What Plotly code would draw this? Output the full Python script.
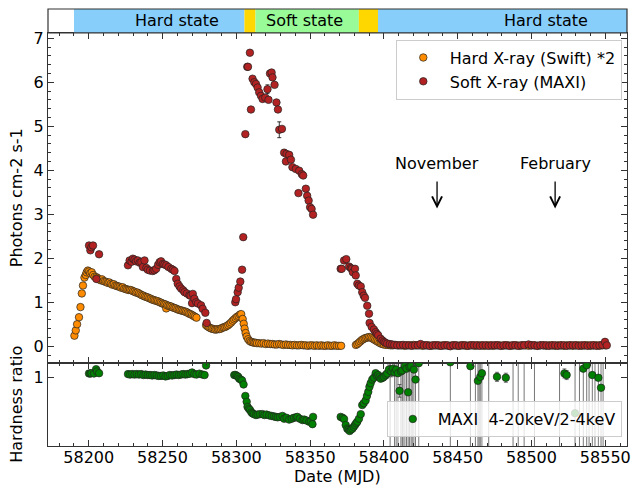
import plotly.graph_objects as go

# ---------------- data ----------------
# Swift hard X-ray (x2), (MJD, photons)
swift_pts = [
    (58190.3, 0.24), (58191.2, 0.36), (58192.1, 0.50), (58193.4, 0.66), (58194.4, 0.89),
    (58195.3, 1.20), (58196.1, 1.38), (58197.1, 1.56), (58198.0, 1.62), (58198.6, 1.68),
    (58199.4, 1.72), (58200.2, 1.70), (58201.0, 1.66), (58202.0, 1.68), (58203.0, 1.62),
    (58204.0, 1.58), (58205.2, 1.57), (58206, 1.55), (58207, 1.52), (58208, 1.50),
    (58209, 1.52), (58210, 1.48), (58211, 1.47), (58212, 1.46), (58213, 1.44),
    (58214, 1.45), (58215, 1.42), (58216, 1.40), (58217, 1.41), (58218, 1.38),
    (58219, 1.37), (58220, 1.36), (58221, 1.35), (58222, 1.33), (58223, 1.34),
    (58224, 1.31), (58225, 1.30), (58226, 1.29), (58227, 1.28), (58228, 1.28),
    (58229, 1.27), (58230, 1.25), (58231, 1.24), (58232, 1.22), (58233, 1.22),
    (58234, 1.20), (58235, 1.18), (58236, 1.16), (58237, 1.15), (58238, 1.13),
    (58239, 1.12), (58240, 1.11), (58241, 1.09), (58242, 1.08), (58243, 1.06),
    (58244, 1.05), (58245, 1.04), (58246, 1.03), (58247, 1.02), (58248, 1.00),
    (58249, 0.99), (58250, 0.97), (58251, 0.96), (58252, 0.95), (58252.5, 0.86),
    (58253, 0.93), (58254, 0.92), (58255, 0.91), (58256, 0.90), (58257, 0.88),
    (58258, 0.87), (58259, 0.86), (58260, 0.84), (58261, 0.83), (58262, 0.82),
    (58263, 0.81), (58264, 0.80), (58265, 0.79), (58266, 0.78), (58267, 0.76),
    (58268, 0.74), (58269, 0.73), (58270, 0.71), (58271, 0.69), (58272, 0.67),
    (58273, 0.65),
    (58279.5, 0.48), (58280.5, 0.45), (58281.5, 0.43), (58282.5, 0.41), (58283.5, 0.40),
    (58284.5, 0.39), (58285.5, 0.38), (58286.5, 0.38), (58287.5, 0.39), (58288.5, 0.39),
    (58289.5, 0.40), (58290.5, 0.42), (58291.5, 0.43), (58292.5, 0.44), (58293.5, 0.46),
    (58294.5, 0.48), (58295.5, 0.51), (58296.5, 0.54), (58297.5, 0.58), (58298.5, 0.61),
    (58299.5, 0.64), (58300.5, 0.67), (58301.5, 0.69), (58302.5, 0.72), (58303.3, 0.73),
    (58304.3, 0.62), (58305.0, 0.51), (58305.6, 0.40), (58306.3, 0.30), (58307.0, 0.22),
    (58308, 0.16), (58309, 0.12), (58310, 0.10), (58311, 0.09), (58312, 0.08),
    (58313, 0.08), (58314, 0.07), (58315.5, 0.07), (58317, 0.06), (58318.5, 0.07),
    (58320, 0.05), (58321.5, 0.06), (58323, 0.05), (58324.5, 0.05), (58326, 0.04),
    (58327.5, 0.04), (58329, 0.05), (58330.5, 0.04), (58332, 0.03), (58333.5, 0.04),
    (58335, 0.03), (58336.5, 0.03), (58338, 0.02), (58339.5, 0.03), (58341, 0.02),
    (58342.5, 0.02), (58344, 0.03), (58345.5, 0.02), (58347, 0.02), (58348.5, 0.01),
    (58350, 0.02), (58351.5, 0.02), (58353, 0.01), (58354.5, 0.02), (58356, 0.01),
    (58357.5, 0.02), (58359, 0.01), (58360.5, 0.01), (58362, 0.02), (58363.5, 0.01),
    (58365, 0.01), (58366.5, 0.02), (58368, 0.01), (58369.5, 0.01), (58371, 0.01),
    (58381, 0.03), (58382, 0.05), (58383, 0.08), (58384, 0.11), (58385, 0.14),
    (58386, 0.16), (58387, 0.18), (58388, 0.19), (58389, 0.20), (58390, 0.21),
    (58391, 0.20), (58392, 0.18), (58393, 0.16), (58394, 0.14), (58395, 0.12),
    (58396, 0.10), (58397, 0.08), (58398, 0.06), (58399, 0.05), (58400, 0.04),
    (58401.5, 0.03), (58403, 0.03), (58404.5, 0.02), (58406, 0.02), (58408, 0.03),
    (58410, 0.02), (58412, 0.02), (58414, 0.01), (58416, 0.02), (58418, 0.02),
    (58420, 0.03), (58422, 0.02), (58424, 0.02), (58426, 0.01), (58428, 0.02),
    (58430, 0.02), (58432, 0.01), (58434, 0.02), (58436, 0.02), (58438, 0.01),
    (58440, 0.02), (58442, 0.02), (58444, 0.01), (58446, 0.02), (58448, 0.02),
    (58450, 0.01), (58452, 0.02), (58454, 0.02), (58456, 0.01), (58458, 0.02),
    (58460, 0.02), (58462, 0.01), (58464, 0.02), (58466, 0.02), (58468, 0.01),
    (58470, 0.02), (58472, 0.02), (58474, 0.01), (58476, 0.02), (58478, 0.02),
    (58480, 0.01), (58482, 0.02), (58484, 0.02), (58486, 0.01), (58488, 0.02),
    (58490, 0.02), (58492, 0.01), (58494, 0.02), (58496, 0.02), (58498, 0.01),
    (58500, 0.02), (58502, 0.02), (58504, 0.01), (58506, 0.02), (58508, 0.02),
    (58510, 0.01), (58512, 0.02), (58514, 0.02), (58516, 0.01), (58518, 0.02),
    (58520, 0.02), (58522, 0.01), (58524, 0.02), (58526, 0.02), (58528, 0.01),
    (58530, 0.02), (58532, 0.02), (58534, 0.01), (58536, 0.02), (58538, 0.02),
    (58540, 0.01), (58542, 0.02), (58544, 0.02), (58546, 0.01), (58548, 0.02),
    (58550, 0.02),
]

# MAXI soft X-ray, (MJD, photons, error)
maxi_pts = [
    (58200.2, 2.29, 0.04), (58201.1, 2.18, 0.04), (58201.8, 2.25, 0.04), (58202.9, 2.29, 0.04),
    (58205.2, 1.53, 0.04), (58207.0, 2.09, 0.04),
    (58226.6, 1.84, 0.03), (58227.7, 1.95, 0.03), (58229.0, 1.92, 0.03), (58229.9, 1.99, 0.03),
    (58231.0, 1.97, 0.03), (58232.0, 1.93, 0.03), (58233.3, 1.95, 0.03), (58234.5, 1.90, 0.03),
    (58235.6, 1.91, 0.03), (58236.7, 1.80, 0.03), (58237.8, 1.95, 0.03), (58239.0, 1.78, 0.03),
    (58240.0, 1.74, 0.03), (58241.5, 1.72, 0.03), (58243.4, 1.71, 0.03), (58244.5, 1.73, 0.03),
    (58245.7, 1.76, 0.03), (58247.0, 1.85, 0.03), (58248.0, 1.91, 0.03), (58249.0, 1.93, 0.03),
    (58250.2, 1.87, 0.03), (58251.3, 1.86, 0.03), (58252.5, 1.84, 0.03), (58254.0, 1.80, 0.03),
    (58255.9, 1.76, 0.03), (58257.0, 1.74, 0.03), (58258.1, 1.71, 0.03), (58259.3, 1.53, 0.03),
    (58260.3, 1.42, 0.03), (58261.5, 1.36, 0.03), (58262.6, 1.31, 0.03), (58264.0, 1.27, 0.03),
    (58264.9, 1.23, 0.03), (58266.5, 1.20, 0.03), (58268.2, 1.16, 0.03), (58269.0, 1.15, 0.03),
    (58270.0, 0.98, 0.03), (58270.5, 1.19, 0.03), (58271.6, 1.08, 0.03), (58272.8, 1.00, 0.03),
    (58274.0, 0.97, 0.03), (58276.1, 0.93, 0.03), (58277.2, 0.85, 0.03), (58279.0, 0.76, 0.03),
    (58279.9, 0.53, 0.03),
    (58299.3, 1.00, 0.03), (58299.8, 1.07, 0.03), (58300.9, 1.23, 0.03), (58301.6, 1.33, 0.03),
    (58302.7, 1.47, 0.03), (58303.9, 1.74, 0.03), (58304.7, 2.48, 0.04), (58306.1, 4.82, 0.05),
    (58307.4, 6.35, 0.05), (58307.9, 6.35, 0.05), (58309.2, 6.67, 0.05), (58309.9, 5.38, 0.05),
    (58311.0, 6.08, 0.05), (58312.2, 6.00, 0.05), (58313.3, 5.96, 0.05), (58314.4, 5.88, 0.05),
    (58315.5, 5.77, 0.05), (58316.7, 5.69, 0.05), (58317.8, 5.62, 0.05), (58319.6, 5.65, 0.05),
    (58321.1, 5.84, 0.10), (58321.8, 5.60, 0.05), (58322.8, 6.20, 0.05), (58323.9, 6.22, 0.05),
    (58324.5, 6.11, 0.05), (58325.9, 5.94, 0.05), (58327.2, 5.54, 0.05), (58328.2, 5.38, 0.05),
    (58329.1, 4.92, 0.18), (58330.9, 4.94, 0.05), (58332.4, 4.40, 0.07), (58333.6, 4.20, 0.05),
    (58334.0, 4.37, 0.05), (58335.8, 4.35, 0.05), (58337.0, 4.24, 0.05), (58338.0, 4.07, 0.05),
    (58340.3, 4.03, 0.05), (58342.1, 3.48, 0.05), (58342.6, 3.99, 0.05), (58344.4, 3.91, 0.05),
    (58345.3, 3.88, 0.05), (58347.1, 3.58, 0.05), (58348.0, 3.42, 0.05), (58349.0, 3.31, 0.05),
    (58350.0, 3.16, 0.05), (58351.0, 3.12, 0.05), (58352.0, 2.99, 0.05),
    (58370.7, 1.76, 0.03), (58371.4, 1.76, 0.03), (58373.0, 1.95, 0.03), (58374.5, 1.98, 0.03),
    (58376.4, 1.81, 0.03), (58377.5, 1.78, 0.03), (58378.2, 1.76, 0.03), (58379.0, 1.68, 0.03),
    (58380.4, 1.76, 0.03), (58380.9, 1.61, 0.03), (58382.0, 1.42, 0.03), (58383.0, 1.38, 0.03),
    (58384.3, 1.36, 0.03), (58385.3, 1.23, 0.03), (58386.3, 1.15, 0.03), (58387.2, 1.10, 0.03),
    (58388.7, 0.92, 0.03), (58389.9, 0.74, 0.03), (58390.3, 0.53, 0.03), (58391.7, 0.44, 0.03),
    (58393.2, 0.38, 0.03), (58394.4, 0.32, 0.03), (58395.2, 0.28, 0.03), (58396.1, 0.25, 0.03),
    (58397.8, 0.17, 0.03), (58399.0, 0.13, 0.03), (58400.0, 0.10, 0.03), (58401.0, 0.08, 0.03),
    (58402.2, 0.06, 0.03), (58404.0, 0.05, 0.03), (58405.6, 0.04, 0.03),
    (58407, 0.03, 0.02), (58409, 0.02, 0.02), (58411, 0.02, 0.02), (58413, 0.03, 0.02),
    (58415, 0.02, 0.02), (58417, 0.02, 0.02), (58419, 0.01, 0.02), (58421, 0.02, 0.02),
    (58423, 0.02, 0.02), (58424.8, 0.05, 0.02), (58427, 0.02, 0.02), (58429, 0.02, 0.02),
    (58431, 0.01, 0.02), (58433, 0.02, 0.02), (58435, 0.02, 0.02), (58437, 0.02, 0.02),
    (58439, 0.01, 0.02), (58441, 0.02, 0.02), (58443, 0.02, 0.02), (58445, 0.00, 0.03),
    (58447, 0.02, 0.02), (58449, 0.02, 0.02), (58451, 0.01, 0.02), (58453, 0.02, 0.02),
    (58455, 0.02, 0.02), (58457, 0.01, 0.02), (58459, 0.02, 0.02), (58461, 0.02, 0.02),
    (58463, 0.02, 0.02), (58465, 0.01, 0.02), (58467, 0.02, 0.02), (58469, 0.02, 0.02),
    (58471, 0.01, 0.02), (58473, 0.02, 0.02), (58475, 0.02, 0.02), (58477, 0.02, 0.02),
    (58479, 0.01, 0.02), (58481, 0.02, 0.02), (58483, 0.02, 0.02), (58485, 0.01, 0.02),
    (58487, 0.02, 0.02), (58489, 0.02, 0.02), (58491, 0.01, 0.02), (58493, 0.02, 0.02),
    (58495, 0.02, 0.02), (58498, 0.04, 0.02), (58500, 0.02, 0.02), (58502, 0.02, 0.02),
    (58504, 0.01, 0.02), (58506, 0.02, 0.02), (58508, 0.02, 0.02), (58510, 0.02, 0.02),
    (58512, 0.01, 0.02), (58514, 0.02, 0.02), (58516, 0.02, 0.02), (58518, 0.01, 0.02),
    (58520, 0.02, 0.02), (58522, 0.02, 0.02), (58524, 0.01, 0.02), (58526, 0.02, 0.02),
    (58528, 0.02, 0.02), (58530, 0.02, 0.02), (58532, 0.01, 0.02), (58534, 0.02, 0.02),
    (58536, 0.02, 0.02), (58538, 0.01, 0.02), (58540, 0.02, 0.02), (58542, 0.02, 0.02),
    (58544, 0.01, 0.02), (58546, 0.02, 0.02), (58548, 0.03, 0.02), (58549.8, 0.10, 0.02),
    (58551, 0.02, 0.02),
]

# MAXI hardness ratio 4-20keV/2-4keV, (MJD, ratio, error)
hr_pts = [
    (58200.2, 1.047, 0.01), (58201.1, 1.047, 0.01), (58201.8, 1.050, 0.01), (58203.6, 1.047, 0.01),
    (58205.0, 1.094, 0.01), (58205.6, 1.070, 0.01), (58207.0, 1.050, 0.01),
    (58226.6, 1.040, 0.01), (58228.0, 1.035, 0.01), (58229.5, 1.040, 0.01), (58231.0, 1.035, 0.01),
    (58232.5, 1.040, 0.01), (58234.0, 1.035, 0.01), (58235.5, 1.040, 0.01), (58237.0, 1.030, 0.01),
    (58238.5, 1.035, 0.01), (58240.0, 1.030, 0.01), (58241.5, 1.030, 0.01), (58243.0, 1.025, 0.01),
    (58244.5, 1.030, 0.01), (58246.0, 1.025, 0.01), (58247.5, 1.020, 0.01), (58249.0, 1.020, 0.01),
    (58250.5, 1.025, 0.01), (58252.0, 1.015, 0.01), (58253.5, 1.020, 0.01), (58255.0, 1.030, 0.01),
    (58256.5, 1.025, 0.01), (58258.0, 1.030, 0.01), (58259.5, 1.035, 0.01), (58261.0, 1.030, 0.01),
    (58262.5, 1.035, 0.01), (58264.0, 1.040, 0.01), (58265.5, 1.035, 0.01), (58267.0, 1.040, 0.01),
    (58268.5, 1.045, 0.01), (58270.0, 1.058, 0.01), (58271.5, 1.040, 0.01), (58273.0, 1.035, 0.01),
    (58275.0, 1.045, 0.01), (58277.0, 1.035, 0.01), (58278.5, 1.030, 0.01), (58279.5, 1.135, 0.02),
    (58298.6, 1.030, 0.01), (58299.5, 1.030, 0.01), (58300.5, 1.020, 0.01), (58301.3, 1.010, 0.01),
    (58302.0, 0.990, 0.01), (58303.0, 0.980, 0.01), (58303.9, 0.970, 0.01), (58304.9, 0.926, 0.01),
    (58306.1, 0.800, 0.01), (58307.0, 0.736, 0.01), (58307.6, 0.680, 0.01), (58308.5, 0.660, 0.01),
    (58309.3, 0.645, 0.01), (58310.2, 0.620, 0.01), (58311.0, 0.608, 0.01), (58312.0, 0.600, 0.01),
    (58313.3, 0.590, 0.01), (58314.5, 0.595, 0.01), (58316.0, 0.600, 0.01), (58317.8, 0.600, 0.01),
    (58319.0, 0.590, 0.01), (58320.5, 0.595, 0.01), (58322.3, 0.586, 0.01), (58324.0, 0.580, 0.01),
    (58325.5, 0.575, 0.01), (58326.8, 0.570, 0.01), (58328.0, 0.565, 0.01), (58329.5, 0.570, 0.01),
    (58331.3, 0.580, 0.01), (58332.4, 0.550, 0.01), (58334.0, 0.560, 0.01), (58335.8, 0.540, 0.01),
    (58337.5, 0.550, 0.01), (58339.0, 0.560, 0.01), (58340.5, 0.565, 0.01), (58341.4, 0.570, 0.01),
    (58343.0, 0.550, 0.01), (58344.8, 0.535, 0.01), (58346.0, 0.540, 0.01), (58347.5, 0.530, 0.01),
    (58349.3, 0.517, 0.01), (58350.5, 0.520, 0.01), (58351.6, 0.490, 0.01), (58352.0, 0.570, 0.01),
    (58370.7, 0.570, 0.02), (58372.0, 0.560, 0.02), (58373.0, 0.546, 0.02), (58374.1, 0.480, 0.02),
    (58375.2, 0.440, 0.02), (58376.0, 0.430, 0.02), (58376.8, 0.415, 0.02), (58377.6, 0.430, 0.02),
    (58378.6, 0.440, 0.02), (58379.5, 0.460, 0.03), (58380.4, 0.480, 0.02), (58381.2, 0.500, 0.02),
    (58382.0, 0.517, 0.02), (58383.1, 0.550, 0.02), (58384.3, 0.600, 0.02), (58385.3, 0.700, 0.02),
    (58386.3, 0.720, 0.02), (58387.6, 0.750, 0.02), (58388.5, 0.800, 0.02), (58389.4, 0.845, 0.02),
    (58390.2, 0.900, 0.02), (58391.0, 0.940, 0.02), (58392.1, 0.980, 0.02), (58393.2, 1.000, 0.03),
    (58394.4, 1.050, 0.03), (58395.2, 1.020, 0.03), (58396.1, 1.030, 0.03), (58397.0, 1.010, 0.03),
    (58397.8, 0.990, 0.03), (58399.0, 1.000, 0.04), (58400.0, 1.010, 0.04), (58401.2, 1.030, 0.04),
    (58402.2, 1.047, 0.05), (58403.4, 1.090, 0.05), (58405.0, 1.070, 0.06), (58406.1, 1.100, 0.08),
    (58407.2, 1.060, 1.0), (58408.3, 1.090, 1.0), (58409.5, 1.050, 1.0), (58410.6, 0.856, 0.07),
    (58411.5, 1.070, 1.0), (58412.4, 1.080, 1.0), (58414.2, 1.127, 1.0), (58415.3, 1.100, 1.0),
    (58416.4, 0.840, 1.0), (58417.3, 1.120, 1.0), (58418.4, 1.127, 1.0), (58420.3, 1.090, 1.0),
    (58421.4, 0.980, 1.0), (58423.6, 1.160, 1.0), (58445.0, 1.170, 1.0), (58458.6, 1.127, 1.0),
    (58463.7, 0.966, 1.0), (58465.3, 1.010, 1.0), (58466.4, 1.050, 1.0), (58476.6, 1.010, 0.05),
    (58482.6, 1.000, 0.05), (58522.3, 1.047, 0.05), (58523.8, 1.030, 0.05), (58529.5, 0.610, 1.0),
    (58535.1, 1.100, 1.0), (58537.4, 1.138, 1.0), (58541.2, 1.030, 1.0), (58545.3, 1.000, 1.0),
    (58547.1, 0.890, 1.0),
    # points above the panel whose error bars cross it
    (58404.2, 1.40, 1.2), (58413.0, 1.40, 1.2), (58419.2, 1.40, 1.2), (58462.0, 1.40, 1.2),
    (58464.5, 1.40, 1.2), (58471.0, 1.40, 1.2), (58487.5, 1.40, 1.2), (58491.0, 1.40, 1.2),
    (58495.0, 1.40, 1.2), (58502.0, 1.40, 1.2), (58519.0, 1.40, 1.2), (58532.5, 1.40, 1.2),
    (58539.0, 1.40, 1.2), (58543.0, 1.40, 1.2), (58548.5, 1.40, 1.2),
]

# spectral state bar
state_start = [58190, 58305.5, 58313, 58383, 58396]
state_end = [58305.5, 58313, 58383, 58396, 58566]
state_color = ["#87CEFA", "#FFD700", "#98FB98", "#FFD700", "#87CEFA"]
state_labels = ["Hard state", "Soft state", "Hard state"]
state_label_x = [58260, 58346.5, 58510]

event_names = ["November", "February"]
event_mjd = [58436, 58516]

# ---------------- figure ----------------
FONT = "DejaVu Sans"
AX = "#333333"
MARK_LINE = dict(color="#222222", width=0.7)

sx = [p[0] for p in swift_pts]
sy = [p[1] for p in swift_pts]
mx = [p[0] for p in maxi_pts]
my = [p[1] for p in maxi_pts]
me = [p[2] for p in maxi_pts]
hx = [p[0] for p in hr_pts]
hy = [p[1] for p in hr_pts]
he = [p[2] for p in hr_pts]

fig = go.Figure()
fig.add_trace(go.Scatter(
    x=sx, y=sy, mode="markers", name="Hard X-ray (Swift) *2",
    marker=dict(color="#FF8C00", size=7.5, line=MARK_LINE),
    error_y=dict(type="constant", value=0.01, color="black", thickness=0.8, width=2),
    xaxis="x", yaxis="y", legend="legend"))
fig.add_trace(go.Scatter(
    x=mx, y=my, mode="markers", name="Soft X-ray (MAXI)",
    marker=dict(color="#B22222", size=7.5, line=MARK_LINE),
    error_y=dict(type="data", array=me, color="black", thickness=0.8, width=2),
    xaxis="x", yaxis="y", legend="legend"))
fig.add_trace(go.Scatter(
    x=hx, y=hy, mode="markers", name="MAXI\u00a0\u00a04-20keV/2-4keV",
    marker=dict(color="#008000", size=7.5, line=MARK_LINE),
    error_y=dict(type="data", array=he, color="rgba(40,40,40,0.8)", thickness=0.8, width=2),
    xaxis="x2", yaxis="y2", legend="legend2"))

d_bot = 83 / 438
d_top = 1 - 24 / 438
xr = [58172.4, 58564.7]

axis_common = dict(
    showline=True, linecolor=AX, linewidth=1.2, mirror="ticks",
    ticks="inside", ticklen=6, tickwidth=1.2, tickcolor=AX,
    showgrid=False, zeroline=False,
    tickfont=dict(family=FONT, size=16, color="black"),
)

fig.update_layout(
    width=636, height=488,
    margin=dict(l=48, r=5, t=8, b=42),
    paper_bgcolor="white", plot_bgcolor="white",
    font=dict(family=FONT, size=16, color="black"),
    xaxis=dict(range=xr, anchor="y", showticklabels=False, dtick=50, tick0=58200,
               minor=dict(dtick=10, ticklen=3, ticks="inside", tickcolor=AX, tickwidth=1),
               **axis_common),
    yaxis=dict(domain=[d_bot, d_top], range=[-0.385, 7.12], anchor="x", dtick=1, tick0=0,
               minor=dict(dtick=0.2, ticklen=3, ticks="inside", tickcolor=AX, tickwidth=1),
               **axis_common),
    xaxis2=dict(range=xr, anchor="y2", matches="x", dtick=50, tick0=58200,
                tickformat="d", ticklabelstandoff=-3,
                minor=dict(dtick=10, ticklen=3, ticks="inside", tickcolor=AX, tickwidth=1),
                **axis_common),
    yaxis2=dict(domain=[0, d_bot], range=[0.25, 1.16], anchor="x2", tickvals=[1],
                **axis_common),
    legend=dict(x=0.991, y=0.93, xanchor="right", yanchor="top", itemwidth=43,
                bgcolor="rgba(255,255,255,0.85)", bordercolor="#cccccc", borderwidth=1,
                font=dict(family=FONT, size=16, color="black")),
    legend2=dict(x=0.991, y=0.0205, xanchor="right", yanchor="bottom", itemwidth=40,
                 bgcolor="rgba(255,255,255,0.8)", bordercolor="#cccccc", borderwidth=1,
                 font=dict(family=FONT, size=16, color="black")),
)

shapes = []
for s, e, c in zip(state_start, state_end, state_color):
    shapes.append(dict(type="rect", xref="x", yref="paper", x0=s, x1=e, y0=d_top, y1=1,
                       fillcolor=c, line=dict(width=0), layer="above"))
shapes.append(dict(type="rect", xref="paper", yref="paper", x0=0, x1=1, y0=d_top, y1=1,
                   line=dict(color=AX, width=1.2), fillcolor="rgba(0,0,0,0)", layer="above"))
fig.update_layout(shapes=shapes)

annots = []
for lab, x in zip(state_labels, state_label_x):
    annots.append(dict(text=lab, x=x, xref="x", y=(d_top + 1) / 2, yref="paper",
                       showarrow=False, font=dict(family=FONT, size=16, color="black"),
                       xanchor="center", yanchor="middle"))
for name, x in zip(event_names, event_mjd):
    annots.append(dict(text=name, x=x, xref="x", y=4.15, yref="y", showarrow=False,
                       font=dict(family=FONT, size=16, color="black"),
                       xanchor="center", yanchor="middle"))
    annots.append(dict(text="", x=x, y=3.13, xref="x", yref="y", ax=x, ay=3.78,
                       axref="x", ayref="y", showarrow=True, arrowhead=5, arrowsize=1.5,
                       arrowwidth=1.3, arrowcolor="black"))
annots.append(dict(text="Photons cm-2 s-1", x=-0.055, xref="paper",
                   y=(d_bot + d_top) / 2, yref="paper", textangle=-90, showarrow=False,
                   font=dict(family=FONT, size=16, color="black"),
                   xanchor="center", yanchor="middle"))
annots.append(dict(text="Hardness ratio", x=-0.055, xref="paper",
                   y=d_bot / 2, yref="paper", textangle=-90, showarrow=False,
                   font=dict(family=FONT, size=16, color="black"),
                   xanchor="center", yanchor="middle"))
annots.append(dict(text="Date (MJD)", x=0.5, xref="paper", y=-31 / 438, yref="paper",
                   showarrow=False, font=dict(family=FONT, size=16, color="black"),
                   xanchor="center", yanchor="middle"))
fig.update_layout(annotations=annots)

fig.write_html("out.html")
